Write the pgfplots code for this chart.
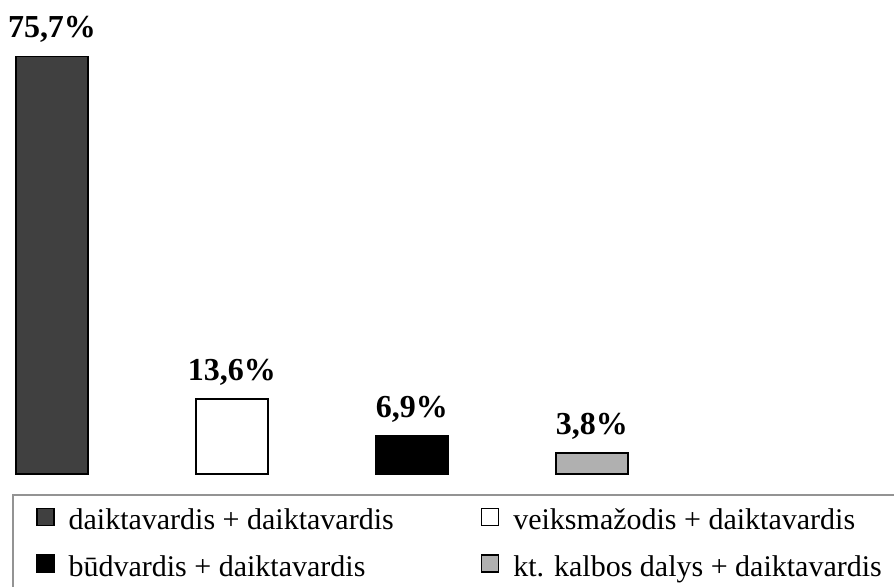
\documentclass[border=0pt]{standalone}
\usepackage{pgfplots}
\pgfplotsset{compat=1.18}
\usepackage{fontspec}
\setmainfont{Liberation Serif}
\definecolor{dg}{HTML}{404040}
\definecolor{lg}{HTML}{B0B0B0}
\pgfplotsset{
  myleg/.style={legend image code/.code={\draw[##1,line width=0.8pt] (0pt,-1.5pt) rectangle (8.5pt,7pt);}}
}
\begin{document}
\begin{tikzpicture}
\begin{axis}[
  x=90pt, y=2.76pt,
  xmin=-0.2889, xmax=4.678, ymin=0, ymax=85.87,
  hide axis, clip=false,
  ybar, bar width=36pt, bar shift=0pt,
  point meta=explicit symbolic,
  nodes near coords,
  nodes near coords style={font=\fontsize{16pt}{18pt}\selectfont\bfseries, anchor=south, inner sep=0pt, text depth=0pt, yshift=9pt, text=black},
  legend columns=2,
  legend style={at={(axis cs:-0.2222,-3.6)}, anchor=north west, draw=gray!85, line width=1pt,
    font=\fontsize{15pt}{18pt}\selectfont, inner xsep=11.5pt, inner ysep=6.5pt,
    nodes={inner sep=0pt, text height=10.5pt, text depth=3.5pt},
    cells={anchor=west}, row sep=8.8pt,
    /tikz/every odd column/.append style={column sep=7pt},
    /tikz/every even column/.append style={column sep=43.5pt}},
]
\addplot[myleg, fill=dg, draw=black, line width=0.6pt] coordinates {(0,75.7) [75,7\%]};
\addlegendentry{daiktavardis + daiktavardis}
\addplot[myleg, fill=white, draw=black, line width=0.8pt] coordinates {(1,13.6) [13,6\%]};
\addlegendentry{veiksmažodis + daiktavardis}
\addplot[myleg, fill=black, draw=black, line width=0.6pt] coordinates {(2,6.9) [6,9\%]};
\addlegendentry{būdvardis + daiktavardis}
\addplot[myleg, fill=lg, draw=black, line width=0.8pt] coordinates {(3,3.8) [3,8\%]};
\addlegendentry{kt. kalbos dalys + daiktavardis}
\coordinate (bl) at (axis cs:-0.2889,-20.47);
\coordinate (tr) at (axis cs:4.678,85.87);
\end{axis}
\pgfresetboundingbox
\useasboundingbox (bl) rectangle (tr);
\end{tikzpicture}
\end{document}
